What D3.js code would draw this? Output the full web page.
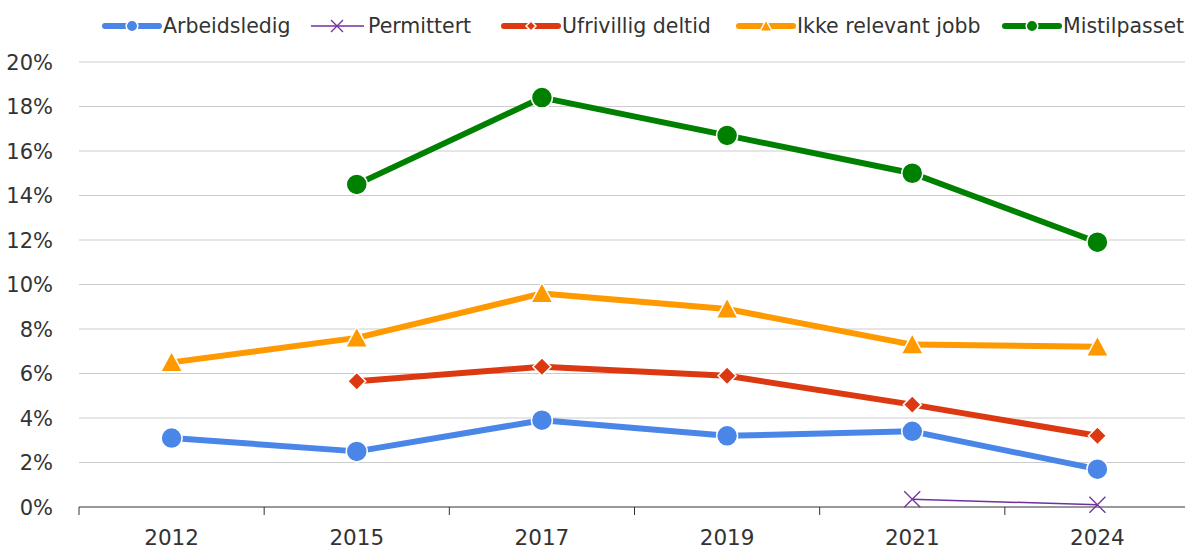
<!DOCTYPE html>
<html>
<head>
<meta charset="utf-8">
<script src="https://cdn.jsdelivr.net/npm/d3@7"></script>
<style>
  body { margin: 0; background: #fff; }
  svg text { font-family: "DejaVu Sans", sans-serif; fill: #333; }
</style>
</head>
<body>
<svg id="chart" width="1185" height="551"></svg>
<script>
const years = ["2012", "2015", "2017", "2019", "2021", "2024"];
const arbeidsledig = [3.1, 2.5, 3.9, 3.2, 3.4, 1.7];
const permittert = [null, null, null, null, 0.35, 0.1];
const ufrivillig = [null, 5.65, 6.3, 5.9, 4.6, 3.2];
const ikkeRelevant = [6.5, 7.6, 9.6, 8.9, 7.3, 7.2];
const mistilpasset = [null, 14.5, 18.4, 16.7, 15.0, 11.9];
const yTicks = [0, 2, 4, 6, 8, 10, 12, 14, 16, 18, 20];

const serier = [
  { navn: "Arbeidsledig", verdier: arbeidsledig, farge: "#4a86e8", bredde: 6, markor: "sirkel" },
  { navn: "Permittert", verdier: permittert, farge: "#7030a0", bredde: 1.5, markor: "kryss" },
  { navn: "Ufrivillig deltid", verdier: ufrivillig, farge: "#dc3912", bredde: 6, markor: "rombe" },
  { navn: "Ikke relevant jobb", verdier: ikkeRelevant, farge: "#ff9900", bredde: 6, markor: "trekant" },
  { navn: "Mistilpasset", verdier: mistilpasset, farge: "#008000", bredde: 6, markor: "sirkel" }
];

const svg = d3.select("#chart");
const margin = { left: 79, right: 1190, top: 62, bottom: 507 };

const x = d3.scaleBand().domain(years).range([margin.left, margin.right]);
const y = d3.scaleLinear().domain([0, 20]).range([margin.bottom, margin.top]);

// rutenett
svg.append("g")
  .selectAll("line")
  .data(yTicks.filter(t => t > 0))
  .join("line")
  .attr("x1", margin.left).attr("x2", margin.right)
  .attr("y1", d => y(d)).attr("y2", d => y(d))
  .attr("stroke", "#ccc").attr("stroke-width", 1);

// y-etiketter
svg.append("g")
  .selectAll("text")
  .data(yTicks)
  .join("text")
  .attr("x", 53)
  .attr("y", d => y(d))
  .attr("dy", "0.36em")
  .attr("text-anchor", "end")
  .attr("font-size", 21)
  .text(d => d + "%");

// x-akse
const xAkse = svg.append("g").attr("transform", `translate(0,${margin.bottom})`);
xAkse.append("line")
  .attr("x1", margin.left).attr("x2", margin.right)
  .attr("stroke", "#333").attr("stroke-width", 1);
const grenser = years.map(d => x(d)).concat([margin.right]);
xAkse.selectAll("line.tick")
  .data(grenser)
  .join("line")
  .attr("class", "tick")
  .attr("x1", d => d).attr("x2", d => d)
  .attr("y1", 0).attr("y2", 8)
  .attr("stroke", "#333");
xAkse.selectAll("text")
  .data(years)
  .join("text")
  .attr("x", d => x(d) + x.bandwidth() / 2)
  .attr("y", 38)
  .attr("text-anchor", "middle")
  .attr("font-size", 21.5)
  .text(d => d);

const cx = d => x(d) + x.bandwidth() / 2;

function tegnMarkor(g, type, farge, s) {
  if (type === "sirkel") {
    g.append("circle").attr("r", 10.5 * s).attr("fill", farge).attr("stroke", "#fff").attr("stroke-width", 1.5);
  } else if (type === "rombe") {
    const r = 9 * s;
    g.append("path").attr("d", `M0,${-r}L${r},0L0,${r}L${-r},0Z`)
      .attr("fill", farge).attr("stroke", "#fff").attr("stroke-width", 1.5);
  } else if (type === "trekant") {
    const r = 11 * s;
    g.append("path").attr("d", `M0,${-r}L${r},${r * 0.85}L${-r},${r * 0.85}Z`)
      .attr("fill", farge).attr("stroke", "#fff").attr("stroke-width", 1.5);
  } else if (type === "kryss") {
    const r = 8 * Math.max(s, 0.75);
    g.append("path").attr("d", `M${-r},${-r}L${r},${r}M${-r},${r}L${r},${-r}`)
      .attr("fill", "none").attr("stroke", farge).attr("stroke-width", 1.3);
  }
}

const linje = d3.line()
  .defined(d => d.v !== null)
  .x(d => cx(d.aar))
  .y(d => y(d.v));

serier.forEach(s => {
  const punkter = years.map((aar, i) => ({ aar, v: s.verdier[i] }));
  svg.append("path")
    .datum(punkter)
    .attr("d", linje)
    .attr("fill", "none")
    .attr("stroke", s.farge)
    .attr("stroke-width", s.bredde)
    .attr("stroke-linejoin", "round");
});

serier.forEach(s => {
  const punkter = years.map((aar, i) => ({ aar, v: s.verdier[i] })).filter(d => d.v !== null);
  svg.append("g")
    .selectAll("g")
    .data(punkter)
    .join("g")
    .attr("transform", d => `translate(${cx(d.aar)},${y(d.v)})`)
    .each(function () { tegnMarkor(d3.select(this), s.markor, s.farge, 1); });
});

// legende: tekstens startpunkt, symbolet ligger rett til venstre
const legendeTekstX = [163, 368, 562, 797, 1063];
serier.forEach((s, i) => {
  const g = svg.append("g").attr("transform", `translate(${legendeTekstX[i]},26)`);
  g.append("line")
    .attr("x1", s.bredde > 2 ? -58 : -57).attr("x2", s.bredde > 2 ? -4 : -4)
    .attr("stroke", s.farge)
    .attr("stroke-width", s.bredde)
    .attr("stroke-linecap", s.bredde > 2 ? "round" : "butt");
  const m = g.append("g").attr("transform", "translate(-31,0)");
  tegnMarkor(m, s.markor, s.farge, 0.55);
  g.append("text")
    .attr("x", 0)
    .attr("dy", "0.35em")
    .attr("font-size", 20.5)
    .text(s.navn);
});
</script>
</body>
</html>
